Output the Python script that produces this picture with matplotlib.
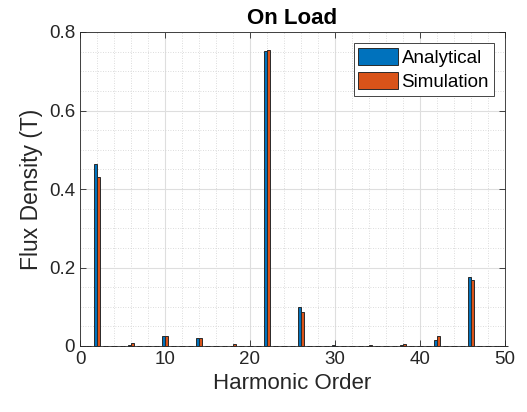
import numpy as np
import matplotlib.pyplot as plt
from matplotlib.ticker import MultipleLocator

# harmonic orders 1..50, only a few carry flux
orders = np.arange(1, 51)
analytical_peaks = {2: 0.463, 6: 0.002, 10: 0.0255, 14: 0.021, 18: 0.001, 22: 0.751,
                    26: 0.0995, 30: 0.003, 34: 0.001, 38: 0.002, 42: 0.0145, 46: 0.176}
simulation_peaks = {2: 0.431, 6: 0.008, 10: 0.0255, 14: 0.021, 18: 0.004, 22: 0.754,
                    26: 0.086, 30: 0.001, 34: 0.003, 38: 0.004, 42: 0.025, 46: 0.168}
analytical = np.array([analytical_peaks.get(n, 0.0) for n in orders])
simulation = np.array([simulation_peaks.get(n, 0.0) for n in orders])

plt.rcParams['font.family'] = ['Liberation Sans', 'DejaVu Sans']

fig = plt.figure(figsize=(5.27, 4.12), dpi=100)
ax = fig.add_axes([80 / 527, 1 - 346 / 412, 425 / 527, 314 / 412])

w = 0.33
ax.bar(orders - w / 2, analytical, width=w, color='#0072BD', edgecolor='#2a2a2a',
       linewidth=0.7, label='Analytical', zorder=3, clip_on=False)
ax.bar(orders + w / 2, simulation, width=w, color='#D95319', edgecolor='#2a2a2a',
       linewidth=0.7, label='Simulation', zorder=3, clip_on=False)

ax.set_xlim(0, 50)
ax.set_ylim(0, 0.8)
ax.xaxis.set_major_locator(MultipleLocator(10))
ax.xaxis.set_minor_locator(MultipleLocator(2))
ax.yaxis.set_major_locator(MultipleLocator(0.2))
ax.yaxis.set_minor_locator(MultipleLocator(0.05))
ax.set_yticks([0, 0.2, 0.4, 0.6, 0.8], ['0', '0.2', '0.4', '0.6', '0.8'])

ax.grid(which='major', color='#dedede', linewidth=0.8, zorder=0)
ax.grid(which='minor', color='#d0d0d0', linewidth=0.6, linestyle=(0, (1, 2)), zorder=0)
ax.tick_params(which='both', direction='in', top=True, right=True, colors='#262626',
               labelsize=13.5)
ax.tick_params(which='minor', length=0)
ax.tick_params(which='major', length=4, width=0.6)
for s in ax.spines.values():
    s.set_color('#262626')
    s.set_linewidth(0.6)

ax.set_title('On Load', fontsize=16, fontweight='bold', pad=6)
ax.set_xlabel('Harmonic Order', fontsize=16, color='#262626')
ax.set_ylabel('Flux Density (T)', fontsize=16.5, color='#262626')

leg = ax.legend(loc='upper right', fontsize=13.5, fancybox=False, framealpha=1,
                edgecolor='#262626', handlelength=2.1, handleheight=1.0,
                borderpad=0.25, labelspacing=0.3, handletextpad=0.2,
                borderaxespad=0.6)
leg.get_frame().set_linewidth(0.6)

fig.savefig('out.png', dpi=100)
